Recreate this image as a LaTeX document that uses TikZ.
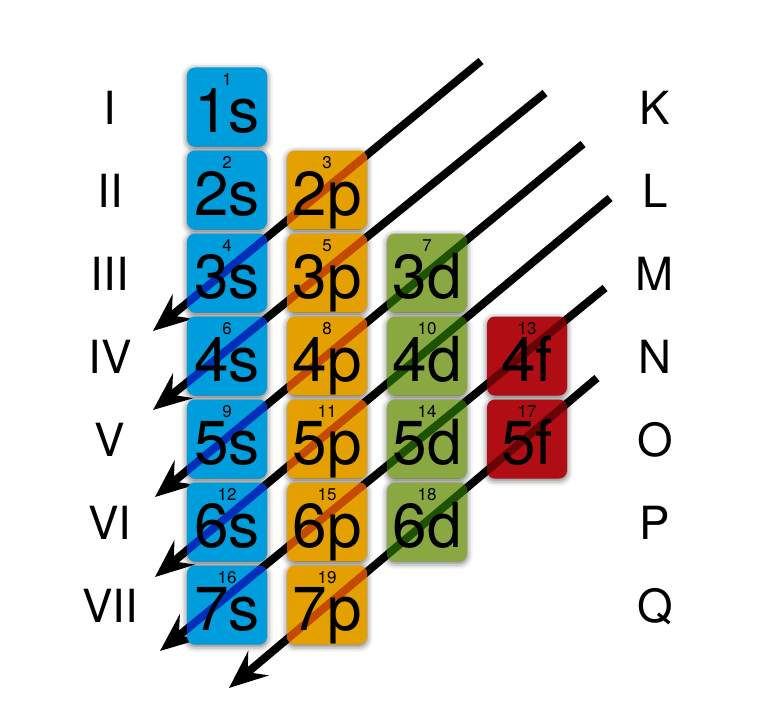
\documentclass[tikz,border=0pt]{standalone}
\usepackage{fontspec}
\setmainfont{TeX Gyre Heros}
\usetikzlibrary{arrows.meta, shadows.blur}
\definecolor{sblue}{RGB}{0,157,220}
\definecolor{sdeep}{RGB}{0,48,185}
\definecolor{porange}{RGB}{227,160,0}
\definecolor{pdeep}{RGB}{196,74,0}
\definecolor{dgreen}{RGB}{138,168,66}
\definecolor{ddeep}{RGB}{28,82,0}
\definecolor{fred}{RGB}{176,14,20}
\definecolor{fdeep}{RGB}{105,4,6}
\tikzset{
  lane/.style  = {line width=0.24cm, draw=black,
                  -{Stealth[length=1.15cm, width=0.95cm, inset=0.42cm]}},
  orb/.style   = {rounded corners=0.24cm, minimum width=2.4cm, minimum height=2.37cm,
                  inner sep=0pt, text height=1.5cm, text depth=0pt,
                  font=\fontsize{53}{53}\selectfont,
                  blur shadow={shadow xshift=0pt, shadow yshift=-1.5pt,
                               shadow blur radius=5pt, shadow opacity=60}},
  sbox/.style  = {orb, fill=sblue, path picture={
                  \foreach \k in {1,...,6} \draw[line width=0.24cm, draw=sdeep] (a\k) -- (b\k);}},
  pbox/.style  = {orb, fill=porange, path picture={
                  \foreach \k in {1,...,6} \draw[line width=0.24cm, draw=pdeep] (a\k) -- (b\k);}},
  dbox/.style  = {orb, fill=dgreen, path picture={
                  \foreach \k in {1,...,6} \draw[line width=0.24cm, draw=ddeep] (a\k) -- (b\k);}},
  fbox/.style  = {orb, fill=fred, path picture={
                  \foreach \k in {1,...,6} \draw[line width=0.24cm, draw=fdeep] (a\k) -- (b\k);}},
  num/.style   = {font=\fontsize{14.5}{14.5}\selectfont, anchor=base, yshift=-0.54cm, inner sep=0pt},
  side/.style  = {font=\fontsize{39}{39}\selectfont, anchor=base, inner sep=0pt}
}

\begin{document}
\begin{tikzpicture}[x=0.03cm, y=-0.03cm]
\useasboundingbox (0,0) rectangle (768,700);

% filling order lanes
\coordinate (a1) at (481, 61);  \coordinate (b1) at (153,331);
\coordinate (a2) at (545, 93);  \coordinate (b2) at (153,410);
\coordinate (a3) at (583,144);  \coordinate (b3) at (155,497);
\coordinate (a4) at (610,198);  \coordinate (b4) at (155,577);
\coordinate (a5) at (605,288);  \coordinate (b5) at (160,651);
\coordinate (a6) at (597,378);  \coordinate (b6) at (229,688);
\foreach \k in {1,...,6} \draw[lane] (a\k) -- (b\k);

% subshells
\node[sbox, label={[num]north:1}]  at (227,107) (s1) {1s};
\node[sbox, label={[num]north:2}]  at (227,190) (s2) {2s};
\node[sbox, label={[num]north:4}]  at (227,273) (s3) {3s};
\node[sbox, label={[num]north:6}]  at (227,356) (s4) {4s};
\node[sbox, label={[num]north:9}]  at (227,439) (s5) {5s};
\node[sbox, label={[num]north:12}] at (227,522) (s6) {6s};
\node[sbox, label={[num]north:16}] at (227,605) (s7) {7s};

\node[pbox, label={[num]north:3}]  at (327,190) (p2) {2p};
\node[pbox, label={[num]north:5}]  at (327,273) (p3) {3p};
\node[pbox, label={[num]north:8}]  at (327,356) (p4) {4p};
\node[pbox, label={[num]north:11}] at (327,439) (p5) {5p};
\node[pbox, label={[num]north:15}] at (327,522) (p6) {6p};
\node[pbox, label={[num]north:19}] at (327,605) (p7) {7p};

\node[dbox, label={[num]north:7}]  at (427,273) (d3) {3d};
\node[dbox, label={[num]north:10}] at (427,356) (d4) {4d};
\node[dbox, label={[num]north:14}] at (427,439) (d5) {5d};
\node[dbox, label={[num]north:18}] at (427,522) (d6) {6d};

\node[fbox, label={[num]north:13}] at (527,356) (f4) {4f};
\node[fbox, label={[num]north:17}] at (527,439) (f5) {5f};

% periods and shells
\node[side] at (110,124) (r1) {I};
\node[side] at (110,207) (r2) {II};
\node[side] at (110,290) (r3) {III};
\node[side] at (110,373) (r4) {IV};
\node[side] at (110,456) (r5) {V};
\node[side] at (110,539) (r6) {VI};
\node[side] at (110,622) (r7) {VII};

\node[side] at (655,124) (k1) {K};
\node[side] at (655,207) (k2) {L};
\node[side] at (655,290) (k3) {M};
\node[side] at (655,373) (k4) {N};
\node[side] at (655,456) (k5) {O};
\node[side] at (655,539) (k6) {P};
\node[side] at (655,622) (k7) {Q};
\end{tikzpicture}
\end{document}
